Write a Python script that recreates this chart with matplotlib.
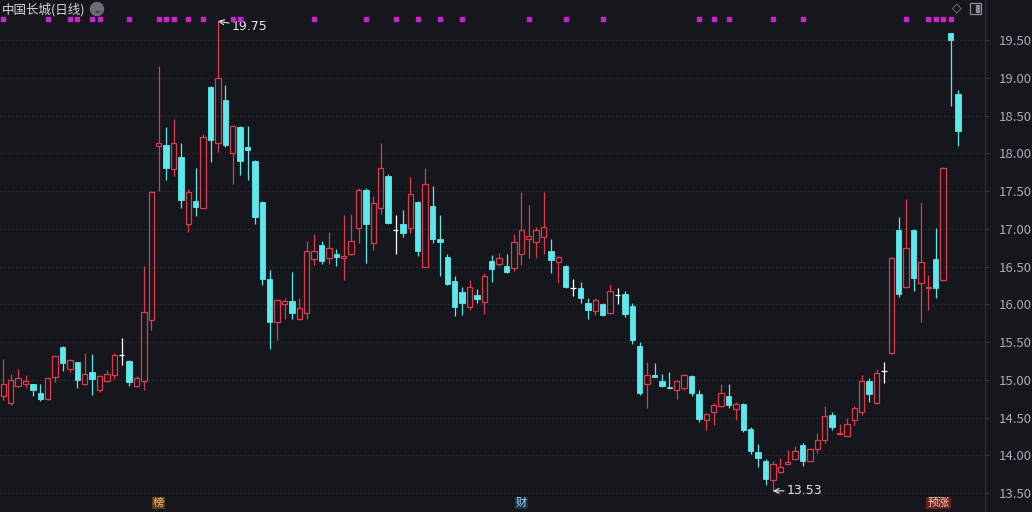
import matplotlib
matplotlib.use('Agg')
import matplotlib.pyplot as plt
from matplotlib.patches import Rectangle, Ellipse
import matplotlib.transforms as mtransforms
import numpy as np

# daily candles
opens = [14.78, 14.70, 14.92, 14.94, 14.94, 14.83, 14.74, 15.04, 15.44, 15.15,
         15.23, 14.94, 15.10, 14.86, 14.98, 15.06, 15.33, 15.25, 14.92, 14.99,
         15.79, 18.10, 18.11, 17.79, 17.95, 17.07, 17.37, 17.28, 18.88, 18.14,
         18.71, 18.00, 18.35, 18.08, 17.90, 17.36, 16.33, 15.77, 16.00, 16.04,
         15.81, 15.89, 16.60, 16.78, 16.61, 16.67, 16.62, 16.66, 17.01, 17.52,
         16.81, 17.28, 17.70, 16.98, 17.07, 17.01, 17.36, 16.50, 17.30, 16.86,
         16.63, 16.31, 16.16, 15.97, 16.12, 16.03, 16.57, 16.54, 16.51, 16.48,
         16.66, 16.87, 16.83, 16.89, 16.70, 16.56, 16.51, 16.21, 16.22, 16.02,
         15.91, 16.01, 15.88, 16.12, 16.14, 15.98, 15.45, 14.95, 15.06, 14.99,
         14.90, 14.87, 14.89, 15.05, 14.81, 14.47, 14.58, 14.66, 14.78, 14.61,
         14.68, 14.35, 14.05, 13.92, 13.68, 13.78, 13.89, 13.95, 14.14, 13.93,
         14.09, 14.20, 14.53, 14.28, 14.26, 14.47, 14.58, 14.99, 14.69, 15.12,
         15.35, 16.99, 16.23, 16.99, 16.28, 16.21, 16.60, 16.32, 19.59, 18.79]
highs = [15.28, 15.08, 15.15, 15.06, 14.95, 14.95, 15.04, 15.33, 15.45, 15.28,
         15.24, 15.35, 15.34, 15.06, 15.13, 15.35, 15.55, 15.26, 15.05, 16.51,
         17.50, 19.15, 18.35, 18.46, 18.13, 17.53, 17.80, 18.26, 18.89, 19.75,
         18.91, 18.37, 18.36, 18.36, 17.91, 17.37, 16.45, 16.07, 16.08, 16.43,
         16.09, 16.84, 16.93, 16.84, 16.96, 16.73, 17.18, 17.20, 17.54, 17.54,
         17.43, 18.14, 17.73, 17.18, 17.25, 17.68, 17.37, 17.80, 17.57, 17.18,
         16.67, 16.37, 16.23, 16.32, 16.20, 16.42, 16.65, 16.68, 16.67, 16.93,
         17.49, 17.31, 17.03, 17.49, 16.87, 16.64, 16.52, 16.34, 16.29, 16.08,
         16.08, 16.02, 16.27, 16.21, 16.17, 16.02, 15.50, 15.24, 15.22, 15.08,
         15.11, 15.00, 15.08, 15.06, 14.86, 14.56, 14.70, 14.94, 14.95, 14.71,
         14.70, 14.38, 14.15, 13.95, 13.92, 13.96, 14.07, 14.12, 14.16, 14.10,
         14.29, 14.65, 14.58, 14.42, 14.49, 14.65, 15.06, 15.02, 15.14, 15.24,
         16.63, 17.15, 17.40, 17.00, 17.36, 16.39, 17.01, 17.82, 19.59, 18.84]
lows = [14.73, 14.67, 14.90, 14.89, 14.78, 14.72, 14.73, 14.97, 15.12, 15.11,
        14.89, 14.93, 14.80, 14.84, 14.97, 15.01, 15.20, 14.92, 14.90, 14.86,
        15.66, 17.50, 17.65, 17.70, 17.28, 16.96, 17.17, 17.27, 17.89, 18.02,
        18.09, 17.60, 17.71, 17.65, 17.07, 16.25, 15.41, 15.53, 15.81, 15.81,
        15.79, 15.80, 16.52, 16.54, 16.54, 16.51, 16.32, 16.65, 16.81, 16.55,
        16.72, 17.20, 17.07, 16.67, 16.89, 16.94, 16.64, 16.50, 16.81, 16.37,
        16.26, 15.85, 15.86, 15.92, 16.02, 15.87, 16.30, 16.51, 16.41, 16.44,
        16.52, 16.61, 16.62, 16.67, 16.42, 16.28, 16.22, 16.11, 16.02, 15.81,
        15.86, 15.84, 15.87, 16.01, 15.83, 15.48, 14.80, 14.63, 15.04, 14.91,
        14.88, 14.75, 14.87, 14.78, 14.44, 14.33, 14.40, 14.64, 14.63, 14.47,
        14.31, 14.02, 13.84, 13.61, 13.53, 13.77, 13.89, 13.95, 13.86, 13.92,
        14.03, 14.16, 14.33, 14.27, 14.25, 14.40, 14.53, 14.71, 14.68, 14.96,
        15.34, 16.10, 16.22, 16.17, 15.76, 15.93, 16.08, 16.31, 18.62, 18.10]
closes = [14.95, 15.00, 15.02, 14.99, 14.86, 14.75, 15.03, 15.32, 15.22, 15.26,
          15.00, 15.08, 15.01, 15.05, 15.08, 15.33, 15.33, 14.97, 15.02, 15.90,
          17.49, 18.14, 17.80, 18.14, 17.38, 17.49, 17.29, 18.21, 18.18, 19.00,
          18.11, 18.36, 17.90, 18.05, 17.16, 16.34, 15.77, 16.06, 16.04, 15.88,
          15.95, 16.70, 16.70, 16.57, 16.74, 16.63, 16.64, 16.84, 17.51, 17.07,
          17.34, 17.81, 17.08, 16.98, 16.95, 17.46, 16.71, 17.60, 16.87, 16.82,
          16.27, 15.97, 16.02, 16.23, 16.07, 16.37, 16.47, 16.61, 16.43, 16.83,
          16.98, 16.91, 16.99, 17.02, 16.59, 16.63, 16.23, 16.21, 16.09, 15.92,
          16.06, 15.86, 16.18, 16.12, 15.87, 15.53, 14.82, 15.07, 15.04, 14.92,
          14.89, 14.99, 15.07, 14.82, 14.48, 14.55, 14.67, 14.83, 14.67, 14.68,
          14.33, 14.06, 13.97, 13.69, 13.89, 13.84, 13.91, 14.06, 13.93, 14.09,
          14.20, 14.52, 14.38, 14.29, 14.41, 14.63, 14.98, 14.81, 15.09, 15.12,
          16.62, 16.14, 16.74, 16.35, 16.56, 16.23, 16.21, 17.81, 19.50, 18.30]

mark_days = [0, 6, 9, 10, 12, 13, 17, 21, 22, 23, 25, 27, 31, 32, 42, 49, 53,
             56, 59, 62, 71, 76, 81, 94, 96, 98, 104, 108, 122, 125, 126, 127, 128]
yticks = [13.5, 14.0, 14.5, 15.0, 15.5, 16.0, 16.5, 17.0, 17.5, 18.0, 18.5, 19.0, 19.5]
high_day, high_val = 29, 19.75
low_day, low_val = 104, 13.53

bg = '#15171c'
up_col = '#e03a4e'
down_col = '#5ce9ee'
plt.rcParams['font.family'] = ['Noto Sans CJK SC', 'DejaVu Sans']

fig = plt.figure(figsize=(10.32, 5.12), dpi=100, facecolor=bg)
ax = fig.add_axes([0, 0, 985 / 1032, 1], facecolor=bg)
ax.set_xlim(-0.45, 132.66)
ax.set_ylim(13.25, 20.03)

w = 0.36
for i in range(len(opens)):
    o, h, l, c = opens[i], highs[i], lows[i], closes[i]
    if c > o:
        ax.vlines(i, c, h, color=up_col, lw=0.9, zorder=2)
        ax.vlines(i, l, o, color=up_col, lw=0.9, zorder=2)
        ax.add_patch(Rectangle((i - w, o), 2 * w, c - o, facecolor='none',
                               edgecolor=up_col, lw=0.9, zorder=3))
    elif c < o:
        ax.vlines(i, l, h, color=down_col, lw=0.9, zorder=2)
        ax.add_patch(Rectangle((i - w, c), 2 * w, o - c, facecolor=down_col,
                               edgecolor=down_col, lw=0.6, zorder=3))
    else:
        ax.vlines(i, l, h, color='white', lw=0.9, zorder=2)
        ax.hlines(o, i - w, i + w, color='white', lw=0.9, zorder=3)

ax.set_yticks(yticks)
ax.set_yticklabels(['%.2f' % v for v in yticks])
ax.yaxis.tick_right()
ax.tick_params(axis='y', colors='#3a3d44', labelcolor='#a9adb3', labelsize=9.5,
               length=3, pad=7)
ax.set_xticks([])
ax.grid(axis='y', color='#2e3138', linestyle=(0, (1.2, 2)), lw=0.9)
for s in ['top', 'left', 'bottom']:
    ax.spines[s].set_visible(False)
ax.spines['right'].set_color('#2e3138')

trans = mtransforms.blended_transform_factory(ax.transData, ax.transAxes)
ax.scatter(mark_days, [1 - 19 / 512] * len(mark_days), transform=trans,
           marker='s', s=5, color='#c824c8', zorder=4)

ax.annotate('19.75', xy=(high_day, high_val), xytext=(10, -4),
            textcoords='offset points', color='#e6e6e6', fontsize=9,
            va='center', family='DejaVu Sans',
            arrowprops=dict(arrowstyle='->', color='#e6e6e6', lw=0.8,
                            shrinkA=0, shrinkB=0))
ax.annotate('13.53', xy=(low_day, low_val), xytext=(10, 0),
            textcoords='offset points', color='#e6e6e6', fontsize=9,
            va='center', family='DejaVu Sans',
            arrowprops=dict(arrowstyle='->', color='#e6e6e6', lw=0.8,
                            shrinkA=0, shrinkB=0))

# event tags along the bottom
ax.text(21, 13.37, '榜', color='#f0c070', fontsize=8, ha='center', va='center',
        bbox=dict(boxstyle='square,pad=0.1', fc='#5a3a15', ec='none'))
ax.text(70, 13.37, '财', color='#9fd8f0', fontsize=8, ha='center', va='center',
        bbox=dict(boxstyle='square,pad=0.1', fc='#1d3342', ec='none'))
ax.text(126.4, 13.37, '预涨', color='#f0d0b0', fontsize=8, ha='center', va='center',
        bbox=dict(boxstyle='square,pad=0.1', fc='#6a2020', ec='none'))

# header
fig.text(2 / 1032, 1 - 10 / 512, '中国长城(日线)', color='#d6d6d6', fontsize=9,
         va='center', ha='left')
fig.patches.append(Ellipse((97 / 1032, 1 - 9 / 512), 13 / 1032, 13 / 512,
                           color='#6b6e74', transform=fig.transFigure))
fig.text(97 / 1032, 1 - 10 / 512, '⌄', color='#1c1e22', fontsize=8,
         ha='center', va='center', family='DejaVu Sans')
fig.text(957 / 1032, 1 - 8 / 512, '◇', color='#8a8d93', fontsize=9,
         ha='center', va='center', family='DejaVu Sans')
fig.patches.append(Rectangle((970 / 1032, 1 - 14 / 512), 11 / 1032, 11 / 512,
                             fill=False, ec='#8a8d93', lw=0.9,
                             transform=fig.transFigure))
fig.patches.append(Rectangle((976 / 1032, 1 - 12 / 512), 3 / 1032, 7 / 512,
                             color='#8a8d93', transform=fig.transFigure))

fig.savefig('out.png', dpi=100, facecolor=bg)
